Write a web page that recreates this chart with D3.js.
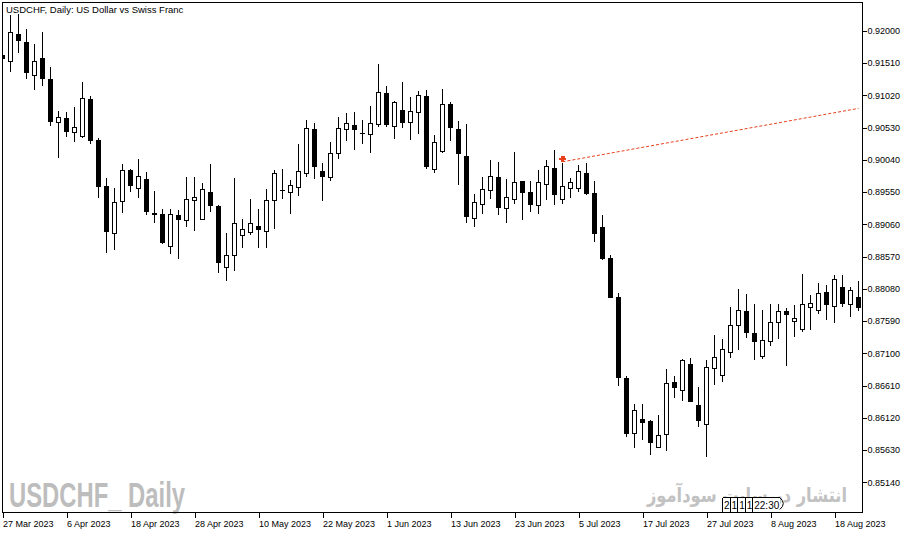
<!DOCTYPE html>
<html>
<head>
<meta charset="utf-8">
<script src="https://cdn.jsdelivr.net/npm/d3@7"></script>
<style>
  html, body { margin: 0; padding: 0; background: #fff; }
  svg { display: block; }
  text { font-family: "Liberation Sans", Arial, sans-serif; }
</style>
</head>
<body>
<div id="chart"></div>
<script>
// USDCHF daily candles, 27 Mar 2023 .. 23 Aug 2023 (weekdays)
const opens = [
  0.91632, 0.91531, 0.91951, 0.91825, 0.91318, 0.91572, 0.91253, 0.90610, 0.90660, 0.90458,
  0.90391, 0.90949, 0.90326, 0.89627, 0.88923, 0.89403, 0.89870, 0.89607, 0.89748, 0.89227,
  0.89212, 0.88720, 0.89197, 0.89121, 0.89425, 0.89136, 0.89546, 0.89338, 0.88407, 0.88589,
  0.88893, 0.88938, 0.89030, 0.88954, 0.89425, 0.89571, 0.89546, 0.89622, 0.89835, 0.90503,
  0.89865, 0.89768, 0.90133, 0.90503, 0.90564, 0.90447, 0.90427, 0.90579, 0.91050, 0.90549,
  0.90792, 0.90610, 0.90762, 0.91005, 0.89896, 0.90163, 0.90883, 0.90503, 0.90093, 0.89151,
  0.89364, 0.89566, 0.89764, 0.89297, 0.89440, 0.89713, 0.89546, 0.89343, 0.89662, 0.89911,
  0.89434, 0.89607, 0.89607, 0.89835, 0.89531, 0.89014, 0.88533, 0.87951, 0.86720, 0.85878,
  0.86097, 0.86067, 0.85672, 0.85863, 0.86649, 0.86532, 0.86933, 0.86310, 0.86021, 0.86872,
  0.86766, 0.87115, 0.87525, 0.87738, 0.87408, 0.87048, 0.87276, 0.87565, 0.87728, 0.87580,
  0.87454, 0.87793, 0.87747, 0.88027, 0.87811, 0.88104, 0.87838, 0.87952
];
const highs = [
  0.91678, 0.92240, 0.92255, 0.92027, 0.91800, 0.91982, 0.91445, 0.90782, 0.90762, 0.90847,
  0.91227, 0.91009, 0.90367, 0.89764, 0.89607, 0.89976, 0.89900, 0.90052, 0.89850, 0.89566,
  0.89288, 0.89288, 0.89277, 0.89774, 0.89774, 0.89688, 0.89976, 0.89346, 0.88923, 0.89759,
  0.89141, 0.89440, 0.89288, 0.89596, 0.89885, 0.89896, 0.89729, 0.90280, 0.90645, 0.90595,
  0.89991, 0.90306, 0.90690, 0.90747, 0.90762, 0.90645, 0.90857, 0.91496, 0.91157, 0.90933,
  0.91222, 0.90990, 0.91085, 0.91105, 0.90417, 0.91116, 0.90914, 0.90630, 0.90584, 0.89520,
  0.89779, 0.90037, 0.90007, 0.89744, 0.90159, 0.89718, 0.89718, 0.89880, 0.90037, 0.90189,
  0.89987, 0.89759, 0.89956, 0.89987, 0.89715, 0.89197, 0.88589, 0.88012, 0.86751, 0.86330,
  0.86330, 0.86082, 0.86158, 0.86861, 0.86751, 0.87013, 0.87024, 0.86588, 0.86998, 0.87378,
  0.87317, 0.87799, 0.88077, 0.88001, 0.87849, 0.87758, 0.87849, 0.87849, 0.87788, 0.87834,
  0.88305, 0.87990, 0.88168, 0.88138, 0.88290, 0.88290, 0.88103, 0.88199
];
const lows = [
  0.91541, 0.91379, 0.91658, 0.91268, 0.91101, 0.91166, 0.90554, 0.90072, 0.90382, 0.90315,
  0.90367, 0.90276, 0.89455, 0.88619, 0.88670, 0.89236, 0.89555, 0.89464, 0.89201, 0.89084,
  0.88761, 0.88609, 0.88537, 0.89019, 0.88963, 0.89125, 0.89251, 0.88325, 0.88203, 0.88355,
  0.88695, 0.88902, 0.88695, 0.88695, 0.88984, 0.89440, 0.89212, 0.89490, 0.89783, 0.89748,
  0.89419, 0.89722, 0.90057, 0.90330, 0.90194, 0.90285, 0.90148, 0.90543, 0.90543, 0.90361,
  0.90528, 0.90345, 0.90437, 0.89905, 0.89844, 0.90148, 0.90330, 0.89657, 0.89084, 0.89024,
  0.89217, 0.89444, 0.89206, 0.89084, 0.89373, 0.89125, 0.89247, 0.89217, 0.89429, 0.89353,
  0.89368, 0.89460, 0.89555, 0.89498, 0.88791, 0.88522, 0.87940, 0.86608, 0.85833, 0.85666,
  0.85783, 0.85559, 0.85661, 0.85620, 0.86425, 0.86380, 0.86360, 0.85985, 0.85529, 0.86618,
  0.86668, 0.87029, 0.87150, 0.87337, 0.86998, 0.87013, 0.87215, 0.87317, 0.86907, 0.87352,
  0.87428, 0.87454, 0.87697, 0.87606, 0.87553, 0.87808, 0.87652, 0.87743
];
const closes = [
  0.91576, 0.91977, 0.91850, 0.91370, 0.91526, 0.91268, 0.90619, 0.90680, 0.90467, 0.90528,
  0.90964, 0.90326, 0.89631, 0.88948, 0.89394, 0.89870, 0.89647, 0.89779, 0.89251, 0.89206,
  0.88780, 0.89212, 0.89136, 0.89440, 0.89470, 0.89592, 0.89349, 0.88477, 0.88589, 0.89075,
  0.88984, 0.89075, 0.88978, 0.89425, 0.89835, 0.89577, 0.89653, 0.89865, 0.90519, 0.89935,
  0.89783, 0.90139, 0.90519, 0.90595, 0.90503, 0.90438, 0.90595, 0.91066, 0.90579, 0.90914,
  0.90610, 0.90777, 0.91020, 0.89931, 0.90306, 0.90883, 0.90528, 0.90133, 0.89176, 0.89394,
  0.89592, 0.89789, 0.89312, 0.89470, 0.89698, 0.89540, 0.89358, 0.89698, 0.89941, 0.89510,
  0.89637, 0.89698, 0.89865, 0.89528, 0.88920, 0.88537, 0.87945, 0.86729, 0.85878, 0.86234,
  0.86046, 0.85742, 0.85854, 0.86644, 0.86577, 0.86983, 0.86365, 0.86076, 0.86887, 0.87039,
  0.87161, 0.87525, 0.87753, 0.87413, 0.87276, 0.87298, 0.87571, 0.87738, 0.87687, 0.87632,
  0.87845, 0.87864, 0.88012, 0.87838, 0.88224, 0.87854, 0.88059, 0.87793
];

// axis labels
const priceTicks = [0.85140, 0.85630, 0.86120, 0.86610, 0.87100, 0.87590, 0.88080,
                    0.88570, 0.89060, 0.89550, 0.90040, 0.90530, 0.91020, 0.91510, 0.92000];
const labelDates = ['2023-03-27', '2023-04-06', '2023-04-18', '2023-04-28', '2023-05-10',
                    '2023-05-22', '2023-06-01', '2023-06-13', '2023-06-23', '2023-07-05',
                    '2023-07-17', '2023-07-27', '2023-08-08', '2023-08-18'];

// visible price range of the window
const priceRange = [0.846887, 0.924376];

// trend line (bar index, price) and the arrow on it
const trendLine = [{ bar: 70, price: 0.90010 }, { bar: 107, price: 0.90821 }];
const arrowMark = { bar: 70, price: 0.89987 };

// time-scale marker cells
const markerCells = ['2', '1', '1', '1', '22:30'];
const markerBar = 90;

const title = 'USDCHF, Daily:  US Dollar vs Swiss Franc';
const watermark = 'USDCHF_ Daily';
const watermarkFa = 'انتشار در سایت سودآموز';

// ---------------------------------------------------------------
const width = 915, height = 534;
const plot = { left: 2, top: 2, right: 862, bottom: 512 };

const dates = d3.timeDays(new Date(2023, 2, 27), new Date(2023, 7, 24))
    .filter(d => d.getDay() !== 0 && d.getDay() !== 6);
const fmtDay = d3.timeFormat('%Y-%m-%d');
const fmtLabel = d3.timeFormat('%-d %b %Y');

const bars = opens.map((o, i) => ({
    i, date: dates[i], open: o, high: highs[i], low: lows[i], close: closes[i]
}));

const x = d3.scaleLinear()
    .domain([0, bars.length - 1])
    .range([2.5, 2.5 + 8 * (bars.length - 1)]);

const y = d3.scaleLinear()
    .domain(priceRange)
    .range([plot.bottom, plot.top]);

const svg = d3.select('#chart')
    .append('svg')
    .attr('width', width)
    .attr('height', height)
    .attr('shape-rendering', 'crispEdges');

svg.append('rect')
    .attr('width', width).attr('height', height)
    .attr('fill', '#fff');

svg.append('clipPath')
    .attr('id', 'plot-clip')
    .append('rect')
    .attr('x', plot.left).attr('y', plot.top)
    .attr('width', plot.right - plot.left)
    .attr('height', plot.bottom - plot.top);

// Watermarks (behind everything)
svg.append('text')
    .attr('x', 9)
    .attr('y', 507)
    .attr('font-size', 35)
    .attr('font-weight', 'bold')
    .attr('fill', '#bdbdbd')
    .attr('textLength', 176)
    .attr('lengthAdjust', 'spacingAndGlyphs')
    .text(watermark);

svg.append('text')
    .attr('x', 747)
    .attr('y', 502)
    .attr('text-anchor', 'middle')
    .style('font-family', '"DejaVu Sans", sans-serif')
    .attr('font-size', 20)
    .attr('font-weight', 'bold')
    .attr('fill', '#c2c2c2')
    .attr('textLength', 200)
    .attr('lengthAdjust', 'spacingAndGlyphs')
    .text(watermarkFa);

// Title
svg.append('text')
    .attr('x', 6)
    .attr('y', 13)
    .attr('font-size', 9.5)
    .attr('fill', '#000')
    .text(title);

const g = svg.append('g').attr('clip-path', 'url(#plot-clip)');

// Candles
const candle = g.selectAll('.candle')
    .data(bars)
    .enter()
    .append('g')
    .attr('class', 'candle');

candle.append('line')
    .attr('x1', d => x(d.i)).attr('x2', d => x(d.i))
    .attr('y1', d => y(d.high)).attr('y2', d => y(d.low))
    .attr('stroke', '#000')
    .attr('stroke-width', 1);

candle.append('rect')
    .attr('x', d => x(d.i) - 2)
    .attr('width', 4)
    .attr('y', d => y(Math.max(d.open, d.close)))
    .attr('height', d => Math.max(0.5, Math.abs(y(d.open) - y(d.close))))
    .attr('fill', d => d.close >= d.open ? '#fff' : '#000')
    .attr('stroke', '#000')
    .attr('stroke-width', 1);

// Trend line
g.append('path')
    .datum(trendLine)
    .attr('fill', 'none')
    .attr('stroke', '#e8401c')
    .attr('stroke-width', 1)
    .attr('stroke-dasharray', '3,2')
    .attr('shape-rendering', 'auto')
    .attr('d', d3.line().x(d => x(d.bar)).y(d => y(d.price)));

// Arrow marker
g.append('path')
    .attr('transform', `translate(${x(arrowMark.bar)},${y(arrowMark.price) - 1})`)
    .attr('fill', '#e8401c')
    .attr('d', 'M-2,-6L2,-6L2,-4.5L3.5,-4.5L3.5,-2.5L1.2,-2.5L1.2,0L-1.2,0L-1.2,-2.5L-3.5,-2.5L-3.5,-4.5L-2,-4.5Z');

// Frame
svg.append('rect')
    .attr('x', plot.left + 0.5).attr('y', plot.top + 0.5)
    .attr('width', plot.right - plot.left)
    .attr('height', plot.bottom - plot.top)
    .attr('fill', 'none')
    .attr('stroke', '#000');

// Price axis
const yAxis = d3.axisRight(y)
    .tickValues(priceTicks)
    .tickSize(4)
    .tickPadding(1)
    .tickFormat(d3.format('.5f'));

const yAxisG = svg.append('g')
    .attr('transform', `translate(${plot.right + 0.5},0)`)
    .call(yAxis);
yAxisG.select('.domain').remove();
yAxisG.selectAll('text')
    .attr('font-family', null)
    .attr('font-size', 9)
    .attr('fill', '#000');

// Time axis
const labelIdx = labelDates.map(s => dates.findIndex(d => fmtDay(d) === s));

const xAxis = d3.axisBottom(x)
    .tickValues(labelIdx)
    .tickSize(5)
    .tickPadding(3)
    .tickFormat(i => fmtLabel(dates[i]));

const xAxisG = svg.append('g')
    .attr('transform', `translate(0,${plot.bottom + 0.5})`)
    .call(xAxis);
xAxisG.select('.domain').remove();
xAxisG.selectAll('text')
    .attr('font-family', null)
    .attr('font-size', 9)
    .attr('fill', '#000')
    .attr('text-anchor', 'start')
    .attr('x', 0);

// Time-scale marker box (drawn over the watermark, as in the terminal)
const mg = svg.append('g');
const boxTop = 497.5;
let cellX = x(markerBar);
markerCells.forEach(s => {
    const t = mg.append('text')
        .attr('y', 508.5)
        .attr('font-size', 10)
        .attr('fill', '#000')
        .text(s);
    const w = t.node().getComputedTextLength() + 2;
    mg.insert('rect', 'text')
        .attr('x', cellX).attr('y', boxTop)
        .attr('width', w).attr('height', plot.bottom - boxTop)
        .attr('fill', '#fff');
    mg.append('line')
        .attr('x1', cellX).attr('x2', cellX)
        .attr('y1', boxTop).attr('y2', plot.bottom)
        .attr('stroke', '#000');
    t.attr('x', cellX + 1.5);
    cellX += w;
});
mg.append('line')
    .attr('x1', x(markerBar)).attr('x2', cellX)
    .attr('y1', boxTop).attr('y2', boxTop)
    .attr('stroke', '#000');
mg.append('path')
    .attr('d', `M${cellX},${boxTop}Q${cellX + 7},${boxTop + 6} ${cellX},${boxTop + 12}`)
    .attr('fill', 'none')
    .attr('stroke', '#000')
    .attr('shape-rendering', 'auto');
</script>
</body>
</html>
